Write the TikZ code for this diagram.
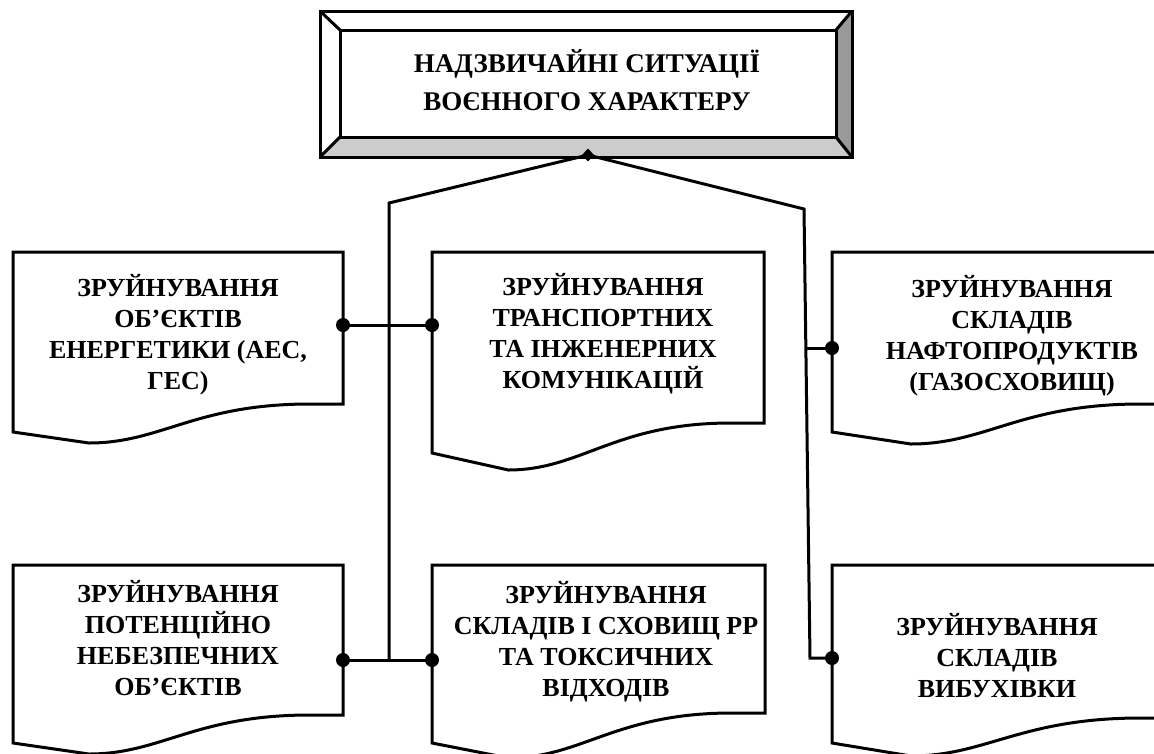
\documentclass[tikz,border=0pt]{standalone}
\usepackage{fontspec}
\setmainfont{Liberation Serif}

% document-style box: flat top, right edge down to yR, wavy bottom to yL
% #1 left, #2 top, #3 right, #4 right-bottom y, #5 left-bottom y, #6 lowest y of the wave
\newcommand\docpath[6]{%
  \path[doc] (#1,#2) -- (#3,#2) -- (#3,#4) -- ({#3-0.1*(#3-#1)},#4)
    .. controls ({#3-0.45*(#3-#1)},#4) and ({#1+0.45*(#3-#1)},#6) ..
    ({#1+0.23*(#3-#1)},#6) -- (#1,#5) -- cycle;}

\begin{document}
\begin{tikzpicture}[x=1pt,y=-1pt,
  line/.style={line width=3pt, line join=miter},
  doc/.style={line width=3pt, draw=black, fill=white, line join=miter},
  lbl/.style={font=\fontsize{26}{31}\selectfont\bfseries, align=center, inner sep=0pt},
  dot/.style={circle, fill=black, inner sep=0pt, minimum size=14pt},
]
\clip (0,0) rectangle (1154,753);
\fill[white] (0,0) rectangle (1154,753);

% ---- title box with bevelled frame ----
\node[minimum width=532pt, minimum height=146pt, inner sep=0pt] (top) at (586,84) {};
\fill[white] (320,11) rectangle (852,157);
\fill[gray!40] (320,157) -- (340,137) -- (836,137) -- (852,157) -- cycle;
\fill[gray!80] (852,11) -- (836,30) -- (836,137) -- (852,157) -- cycle;
\draw[line] (320,11) rectangle (852,157);
\draw[line] (340,30) rectangle (836,137);
\draw[line] (320,11) -- (340,30);
\draw[line] (852,11) -- (836,30);
\draw[line] (320,157) -- (340,137);
\draw[line] (852,157) -- (836,137);
\node[lbl, font=\fontsize{27}{38}\selectfont\bfseries] (title) at (587,80)
  {НАДЗВИЧАЙНІ СИТУАЦІЇ\\ВОЄННОГО ХАРАКТЕРУ};

% ---- six document boxes ----
\docpath{13}{252}{343}{404}{432}{443}
\docpath{432}{252}{764}{423}{453}{470}
\docpath{832}{252}{1175}{404}{432}{444}
\docpath{13}{565}{343}{715}{743}{754}
\docpath{432}{565}{765}{713}{743}{758}
\docpath{832}{565}{1175}{718}{743}{756}

\node[lbl] (b1) at (178,335) {ЗРУЙНУВАННЯ\\ОБ’ЄКТІВ\\ЕНЕРГЕТИКИ (АЕС,\\ГЕС)};
\node[lbl] (b2) at (603,334) {ЗРУЙНУВАННЯ\\ТРАНСПОРТНИХ\\ТА ІНЖЕНЕРНИХ\\КОМУНІКАЦІЙ};
\node[lbl] (b3) at (1012,336) {ЗРУЙНУВАННЯ\\СКЛАДІВ\\НАФТОПРОДУКТІВ\\(ГАЗОСХОВИЩ)};
\node[lbl] (b4) at (178,638) {ЗРУЙНУВАННЯ\\ПОТЕНЦІЙНО\\НЕБЕЗПЕЧНИХ\\ОБ’ЄКТІВ};
\node[lbl] (b5) at (606,642) {ЗРУЙНУВАННЯ\\СКЛАДІВ І СХОВИЩ РР\\ТА ТОКСИЧНИХ\\ВІДХОДІВ};
\node[lbl] (b6) at (997,656) {ЗРУЙНУВАННЯ\\СКЛАДІВ\\ВИБУХІВКИ};

% ---- connectors ----
\coordinate (ap) at (588,155);
\coordinate (lb) at (389,203);
\coordinate (rb) at (804,209);
\coordinate (lj) at (389,660);
\coordinate (rj) at (810,658);
\coordinate (r3) at (806,348);

\node[dot] (d1) at (343,325) {};
\node[dot] (d2) at (432,325) {};
\node[dot] (d3) at (832,348) {};
\node[dot] (d4) at (343,660) {};
\node[dot] (d5) at (432,660) {};
\node[dot] (d6) at (832,658) {};

\draw[line] (lj) -- (lb) -- (ap) -- (rb) -- (rj) -- (d6.center);
\draw[line] (d1.center) -- (d2.center);
\draw[line] (d4.center) -- (d5.center);
\draw[line] (r3) -- (d3.center);
\fill (ap) +(0,-6.5) -- +(6,0) -- +(0,6.5) -- +(-6,0) -- cycle;
\end{tikzpicture}
\end{document}
